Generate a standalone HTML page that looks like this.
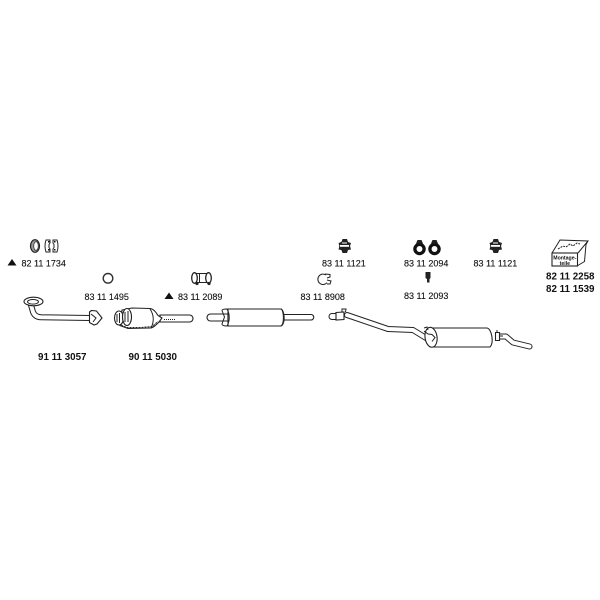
<!DOCTYPE html>
<html><head><meta charset="utf-8"><style>
html,body{margin:0;padding:0;background:#fff}
svg{display:block;filter:blur(.35px)}
text{font-family:"Liberation Sans",sans-serif;font-size:9px;fill:#111;stroke:#111;stroke-width:.12}
.b{font-weight:bold;font-size:9.8px;fill:#111;stroke:none}
.s{fill:none;stroke:#222;stroke-width:1}
.w{fill:#fff;stroke:#222;stroke-width:1.100}
.t{fill:none;stroke:#222;stroke-width:6;stroke-linejoin:round;stroke-linecap:round}
.i{fill:none;stroke:#fff;stroke-width:4;stroke-linejoin:round;stroke-linecap:round}
</style></head><body>
<svg width="600" height="600" viewBox="0 0 600 600" xmlns="http://www.w3.org/2000/svg">
<rect width="600" height="600" fill="#fff"/>

<!-- ring + clips 82 11 1734 -->
<ellipse cx="35" cy="246" rx="4.500" ry="6.300" fill="#999" stroke="#222" stroke-width="1.200"/>
<ellipse cx="36" cy="246" rx="2.300" ry="4.300" fill="#fff" stroke="#333" stroke-width=".8"/>
<path class="s" stroke-width="1.300" d="M46 240h4v3l-1 1.500v3l1 1.500v3h-4q-2-6 0-12zM53 240h4q2 6 0 12h-4v-3l1-1.500v-3l-1-1.500z"/>
<rect x="48" y="241" width="1.500" height="1.500" fill="#111"/><rect x="48" y="249" width="1.500" height="1.500" fill="#111"/>
<rect x="54" y="241" width="1.500" height="1.500" fill="#111"/><rect x="54" y="249" width="1.500" height="1.500" fill="#111"/>
<polygon points="12,259 16.500,265.500 7.500,265.500" fill="#111"/>
<text x="21.500" y="266.500">82 11 1734</text>

<!-- ring 83 11 1495 -->
<circle cx="108" cy="278.300" r="4.800" fill="#fff" stroke="#333" stroke-width="1.400"/>
<text x="84.500" y="300">83 11 1495</text>

<!-- front pipe -->
<path class="t" d="M31 305L33 312Q35 317 41 317.300L90 318"/>
<path class="i" d="M31 305L33 312Q35 317 41 317.300L90 318"/>
<ellipse cx="33.500" cy="301.500" rx="9.500" ry="4.300" class="w" stroke-width="1.300"/>
<ellipse cx="33" cy="301.800" rx="5.500" ry="2.300" class="s"/>
<path class="w" stroke-width="1.400" d="M89.500 312l2-1.500 5 .5 5.500 7-5 6-3 1-4.500-2.500z"/>
<path class="s" d="M91 314l5 4-3 4"/>
<text class="b" x="38" y="360">91 11 3057</text>

<!-- catalytic converter -->
<path d="M160 315h29.500a3.500 3.500 0 0 1 0 7h-29.500z" class="w"/>
<path class="s" stroke-dasharray="1 1" stroke-width="1.600" d="M164 319.500h12"/>
<path class="w" stroke-width="1.200" d="M122 310l10-2 18 .5c4 .5 6 4 8 7l4 2.500-3 4c-3 3-6 6-9 6l-22 .5-8-3z"/>
<path class="s" stroke-width="2.200" stroke-dasharray="2 1" d="M121 325l6 2.500 14 0 11-1 6-5"/>
<path class="s" stroke-width="1.700" d="M150 309q6 9 1 19"/>
<ellipse cx="119" cy="318" rx="4.500" ry="7" class="w" stroke-width="1.300"/>
<ellipse cx="127" cy="317" rx="4.500" ry="8.500" class="w" stroke-width="1.300"/>
<path class="s" d="M117 314v8M119.500 313v10M125 312v10M128 311v11"/>
<text class="b" x="128.500" y="360">90 11 5030</text>

<!-- clamp 83 11 2089 -->
<polygon points="169,292.500 173.500,299 164.500,299" fill="#111"/>
<path class="s" stroke-width="1.100" d="M194 273.500h15M194 282.500h15"/>
<ellipse cx="194.500" cy="278" rx="2.800" ry="5.300" fill="#fff" stroke="#222" stroke-width="1.300"/>
<ellipse cx="208.500" cy="278" rx="2.800" ry="5.300" fill="#fff" stroke="#222" stroke-width="1.300"/>
<path class="s" d="M199.500 274v8.500"/>
<circle cx="197" cy="283.500" r="1.600" fill="#222"/><circle cx="209" cy="283.500" r="1.600" fill="#222"/>
<text x="178" y="300">83 11 2089</text>

<!-- middle muffler -->
<path class="w" d="M228 314h-17.500a3.500 3.500 0 0 0 0 7h17.500z"/>
<path class="w" d="M282 314.500h29a2.700 2.700 0 0 1 0 5.500h-29z"/>
<path class="w" stroke-width="1.200" d="M228 309h53c3 1 3.500 15 0 17h-53z"/>
<path class="s" stroke-width="1.300" d="M227 309c-4 0-5 .5-5 1.500l2.500 6.500-2.500 7c0 1.500 2.500 2 5 2 3-5 3-12 0-17zM281 309c4 2 4.500 15 0 17"/>

<!-- 83 11 8908 -->
<path class="s" stroke-width="1.500" d="M326 275a5.200 5.200 0 1 0 1 7.700"/>
<path class="s" stroke-width="1.400" d="M325 274l5 .5v2.500l-3 1M327 280l4 1-1 3h-3"/>
<text x="300.500" y="300">83 11 8908</text>

<!-- hangers 83 11 1121 -->
<g id="h">
<path fill="#222" d="M338.500 243l3-1 1-3h4.500l1 3 3 1-1 3 1 3.500-3 .5-1 3h-4.500l-1-3-3-.5 1-3.500z"/>
<circle cx="344.500" cy="246" r="5.300" fill="#222"/>
<rect x="340" y="245" width="9" height="1.800" fill="#fff"/>
<rect x="342" y="242.500" width="5" height="1" fill="#fff"/>
</g>
<text x="322" y="266.500">83 11 1121</text>
<use href="#h" x="151" y="0"/>
<text x="473.500" y="266.500">83 11 1121</text>

<!-- 83 11 2094 -->
<circle cx="419.500" cy="249" r="4.600" fill="#fff" stroke="#111" stroke-width="3.300"/>
<path d="M416 243.500l1.500-3.500h4l1.500 3.500z" fill="#222"/>
<circle cx="434.500" cy="249" r="4.600" fill="#fff" stroke="#111" stroke-width="3.300"/>
<path d="M431 243.500l1.500-3.500h4l1.500 3.500z" fill="#222"/>
<text x="404" y="266.500">83 11 2094</text>

<!-- 83 11 2093 -->
<path d="M425.500 272h5v6l-1 1v3.500h-2.500v-3.500l-1.500-1z" fill="#222"/>
<text x="404" y="299">83 11 2093</text>

<!-- montage box -->
<path class="s" d="M552 253l8-13 28 1 -10 12M588 241l-2 3.500-1.500 17-7.500 4.500"/>
<path class="s" stroke-dasharray="2 1" stroke-width="1.500" d="M558 249l5-3 3 1 4-3 3 2 4-3 3 1"/>
<rect x="552" y="253" width="25.500" height="13" class="w" stroke-width="1.100"/>
<text x="564.800" y="259.500" text-anchor="middle" style="font-size:5.200px;font-weight:bold;stroke:none">Montage-</text>
<text x="564.800" y="265" text-anchor="middle" style="font-size:5.200px;font-weight:bold;stroke:none">teile</text>
<text class="b" x="546" y="279.500">82 11 2258</text>
<text class="b" x="546" y="292">82 11 1539</text>

<!-- rear pipe + muffler -->
<path class="s" stroke-width="1.100" d="M332 313.500h5v6h-5a3 3 0 0 1 0-6z"/>
<path class="w" d="M336 312.500l8-.5v7.500l-8 .5z"/>
<path class="s" d="M342 312v-3h4l-.5 3"/>
<path class="t" d="M347 315L388 329L413 330L426 338"/>
<path class="i" d="M347 315L388 329L413 330L426 338"/>
<path class="t" d="M498 336.500L506 336.500L513 342.500L529.500 346.500"/>
<path class="i" d="M498 336.500L506 336.500L513 342.500L529.500 346.500"/>
<path class="w" d="M495.500 332.500h4v8h-4z"/>
<path class="s" d="M497 332v-2M500 336h3"/>
<path class="w" stroke-width="1.200" d="M430 328h57c5 1 7 15 3 19h-60z"/>
<ellipse cx="431" cy="337.300" rx="6" ry="10" class="w" stroke-width="1.300" transform="rotate(-8 431 337)"/>
<path class="s" stroke-width="1.800" d="M424 331l4 3 4 .5 3 3-3 4"/>
<path class="s" d="M424 328l3-1 1 3"/>
</svg>
</body></html>
